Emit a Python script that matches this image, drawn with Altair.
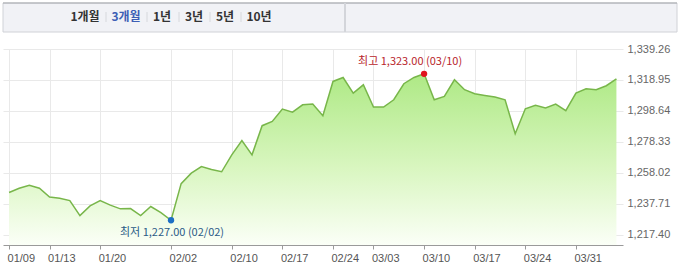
import altair as alt
import pandas as pd

# ---------------- data ----------------
values = [
    1245.2, 1248.0, 1250.0, 1248.0, 1242.2, 1241.4, 1239.9, 1230.1, 1236.4, 1239.9,
    1236.9, 1234.5, 1234.7, 1230.1, 1236.0, 1232.0, 1227.0, 1251.0, 1257.9, 1262.2,
    1260.3, 1258.8, 1269.9, 1279.3, 1269.9, 1289.0, 1291.8, 1299.9, 1297.9, 1302.7,
    1303.2, 1295.5, 1318.0, 1320.6, 1310.4, 1315.8, 1301.2, 1301.2, 1306.0, 1316.5,
    1320.6, 1323.0, 1306.0, 1308.2, 1319.1, 1312.6, 1309.9, 1308.8, 1307.8, 1306.0,
    1283.7, 1300.1, 1302.3, 1300.6, 1303.2, 1298.8, 1310.4, 1313.2, 1312.6, 1315.2,
    1319.6,
]
tick_index = [0, 4, 9, 16, 22, 27, 32, 36, 41, 46, 51, 56]
tick_labels = ["01/09", "01/13", "01/20", "02/02", "02/10", "02/17",
               "02/24", "03/03", "03/10", "03/17", "03/24", "03/31"]
y_ticks = [1217.40, 1237.71, 1258.02, 1278.33, 1298.64, 1318.95, 1339.26]
tabs = ["1개월", "3개월", "1년", "3년", "5년", "10년"]
selected_tab = "3개월"
high_index, high_value, high_date = 41, 1323.00, "03/10"
low_index, low_value, low_date = 16, 1227.00, "02/02"

# ---------------- layout / style ----------------
W, H = 620, 196
PAD = {"left": 3, "top": 49, "right": 57, "bottom": 23}
X_DOMAIN = [-0.6, 60.65]
Y_DOMAIN = [1210.8, 1339.26]
FONT = "Noto Sans CJK KR"
NUM_FONT = "Liberation Sans"
tab_x = [82, 123, 159, 191, 222, 256]  # pixel centres relative to plot origin
sep_x = [103, 144, 176, 207, 238]

df = pd.DataFrame({"i": list(range(len(values))), "v": values})
one = pd.DataFrame({"a": [0]})

xs = alt.Scale(domain=X_DOMAIN, nice=False, zero=False)
ys = alt.Scale(domain=Y_DOMAIN, nice=False, zero=False)

label_expr = "[" + ",".join(f"'{l}'" for l in tick_labels) + "][indexof([" + \
    ",".join(str(t) for t in tick_index) + "], datum.value)]"

x_axis = alt.Axis(values=tick_index, labelExpr=label_expr, grid=True, gridColor="#e9e9e9",
                  domainColor="#9a9a9a", tickColor="#9a9a9a", tickSize=4,
                  labelFont=NUM_FONT, labelFontSize=11, labelColor="#555555",
                  labelAlign="left", labelFlush=False, labelOffset=-2,
                  labelPadding=3, title=None)
y_axis = alt.Axis(values=y_ticks, format=",.2f", orient="right", grid=True,
                  gridColor="#e9e9e9", domain=False, ticks=False,
                  labelFont=NUM_FONT, labelFontSize=11, labelColor="#666666",
                  labelPadding=4, title=None)

X = alt.X("i:Q", scale=xs, axis=x_axis)
Y = alt.Y("v:Q", scale=ys, axis=y_axis)

area = alt.Chart(df).mark_area(
    color=alt.Gradient(gradient="linear",
                       stops=[alt.GradientStop(color="#aee985", offset=0),
                              alt.GradientStop(color="#d9f6c0", offset=0.55),
                              alt.GradientStop(color="#fbfff7", offset=1)],
                       x1=1, x2=1, y1=0, y2=1)
).encode(x=X, y=Y, y2=alt.datum(Y_DOMAIN[0]))
line = alt.Chart(df).mark_line(color="#78b64a", strokeWidth=1.5).encode(x=X, y=Y)

hl = pd.DataFrame({
    "i": [high_index, low_index],
    "v": [high_value, low_value],
    "t": [f"최고 {high_value:,.2f} ({high_date})", f"최저 {low_value:,.2f} ({low_date})"],
    "kind": ["high", "low"],
})
pts = alt.Chart(hl).mark_circle(size=40, opacity=1).encode(
    x=X, y=Y,
    color=alt.Color("kind:N", scale=alt.Scale(domain=["high", "low"], range=["#e0141e", "#1d6fc4"]),
                    legend=None),
)
hi_txt = alt.Chart(hl[hl.kind == "high"]).mark_text(
    font=FONT, fontSize=11, color="#b8262b", dx=-14, dy=-12, align="center"
).encode(x=X, y=Y, text="t:N")
lo_txt = alt.Chart(hl[hl.kind == "low"]).mark_text(
    font=FONT, fontSize=11, color="#2b5b86", dx=1, dy=13, align="center"
).encode(x=X, y=Y, text="t:N")

# ---------------- top tab bar ----------------
bar_bg = alt.Chart(one).mark_rect(fill="#f1f2f6", stroke="#d0d2d7", strokeWidth=1).encode(
    x=alt.value(0), x2=alt.value(674), y=alt.value(-46), y2=alt.value(-17))
bar_top = alt.Chart(one).mark_rule(color="#a4a6ab", strokeWidth=1).encode(
    x=alt.value(0), x2=alt.value(674), y=alt.value(-46))
divider = alt.Chart(one).mark_rule(color="#d3d5da", strokeWidth=2).encode(
    x=alt.value(342), y=alt.value(-46), y2=alt.value(-17))

tab_layers = []
for label, px in zip(tabs, tab_x):
    tab_layers.append(alt.Chart(one).mark_text(
        font=FONT, fontSize=12, fontWeight="bold", align="center", baseline="middle",
        color="#3d5fb5" if label == selected_tab else "#333333"
    ).encode(x=alt.value(px), y=alt.value(-32), text=alt.value(label)))
for px in sep_x:
    tab_layers.append(alt.Chart(one).mark_rule(color="#d6d8dc").encode(
        x=alt.value(px), y=alt.value(-37), y2=alt.value(-27)))

chart = alt.layer(
    area, line, pts, hi_txt, lo_txt, bar_bg, bar_top, divider, *tab_layers
).properties(
    width=W, height=H,
    autosize=alt.AutoSizeParams(type="none"),
    padding=PAD,
    background="white",
).configure_view(stroke=None)

chart.save("out.html", embed_options={"renderer": "svg", "actions": False})
